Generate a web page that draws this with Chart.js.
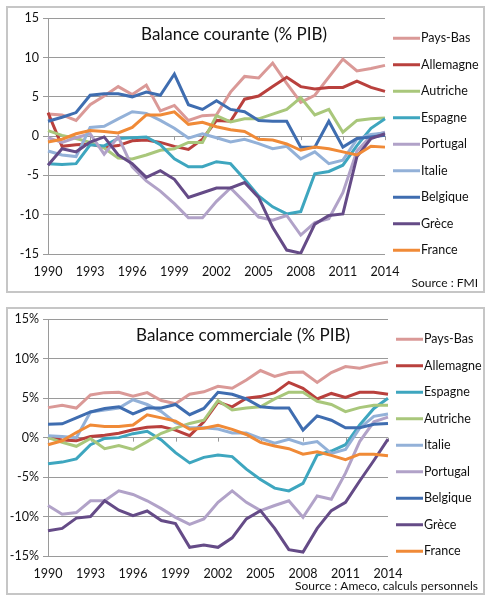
<!DOCTYPE html>
<html>
<head>
<meta charset="utf-8">
<script src="https://cdn.jsdelivr.net/npm/chart.js@4"></script>
<style>
  body { margin: 0; background: #fff; }
  .box { position: absolute; left: 6px; width: 475px; border: 2px solid #c6c6c6; background: #fff; }
  #box1 { top: 6px; height: 283px; }
  #box2 { top: 307px; height: 284px; }
</style>
</head>
<body>
<div class="box" id="box1"><canvas id="courante"></canvas></div>
<div class="box" id="box2"><canvas id="commerciale"></canvas></div>
<script>
// années
const years = ["1990","1991","1992","1993","1994","1995","1996","1997","1998","1999","2000","2001","2002",
               "2003","2004","2005","2006","2007","2008","2009","2010","2011","2012","2013","2014"];
const yTicks = [-15, -10, -5, 0, 5, 10, 15];

// Balance courante (% PIB) - source FMI
const paysBasCA   = [2.8, 2.7, 2.0, 4.0, 5.1, 6.3, 5.3, 6.5, 3.2, 3.9, 2.0, 2.6, 2.7, 5.6, 7.6, 7.4, 9.3, 6.7, 4.3, 5.2, 7.5, 9.8, 8.3, 8.6, 9.0];
const allemagneCA = [3.0, -1.3, -1.1, -1.0, -1.4, -1.2, -0.6, -0.5, -0.8, -1.3, -1.7, -0.4, 2.0, 1.9, 4.7, 5.1, 6.3, 7.5, 6.3, 6.0, 6.2, 6.2, 7.0, 6.2, 5.7];
const autricheCA  = [0.7, 0.1, -0.3, -0.8, -1.5, -2.8, -2.9, -2.4, -1.8, -1.6, -0.8, -0.8, 2.6, 1.8, 2.2, 2.2, 2.8, 3.4, 4.9, 2.7, 3.4, 0.5, 2.0, 2.2, 2.3];
const espagneCA   = [-3.5, -3.6, -3.5, -1.1, -1.25, -0.3, -0.2, -0.1, -1.1, -2.9, -3.9, -3.9, -3.25, -3.5, -5.5, -7.6, -9.0, -9.9, -9.6, -4.8, -4.5, -3.7, -1.2, 1.0, 2.2];
const portugalCA  = [-0.2, -0.8, -0.2, 0.3, -2.3, -0.1, -3.9, -5.7, -7.0, -8.6, -10.4, -10.4, -8.3, -6.6, -8.4, -10.3, -10.7, -10.1, -12.6, -11.0, -10.5, -7.2, -1.9, 0.0, 0.5];
const italieCA    = [-1.9, -2.4, -2.6, 1.1, 1.25, 2.2, 3.1, 2.9, 2.0, 1.0, -0.25, 0.3, -0.2, -0.75, -0.4, -0.95, -1.6, -1.3, -2.9, -2.0, -3.5, -3.05, -0.4, 0.2, 0.4];
const belgiqueCA  = [1.9, 2.4, 3.0, 5.2, 5.4, 5.4, 5.0, 5.6, 5.2, 7.9, 4.0, 3.4, 4.5, 3.4, 3.1, 2.0, 1.9, 1.9, -1.4, -1.4, 1.9, -1.4, -0.3, -0.1, 0.1];
const greceCA     = [-3.7, -1.6, -2.0, -0.75, -0.1, -2.4, -3.5, -5.25, -4.4, -5.5, -7.8, -7.2, -6.6, -6.6, -5.9, -7.8, -11.6, -14.5, -14.9, -11.2, -10.1, -9.9, -2.6, -0.3, 0.3];
const franceCA    = [-0.75, -0.4, 0.3, 0.7, 0.6, 0.4, 1.1, 2.7, 2.7, 3.1, 1.5, 1.75, 1.2, 0.8, 0.6, -0.4, -0.5, -1.0, -1.8, -1.4, -1.6, -2.0, -2.4, -1.3, -1.4];

// Balance commerciale (% PIB) - Ameco
const paysBasBC   = [3.8, 4.1, 3.75, 5.4, 5.7, 5.75, 5.25, 5.7, 4.7, 4.3, 5.5, 5.8, 6.5, 6.25, 7.3, 8.5, 7.75, 8.25, 8.3, 7.0, 8.25, 9.0, 8.8, 9.25, 9.6];
const allemagneBC = [0.0, -0.3, -0.4, 0.15, 0.3, 0.55, 1.0, 1.3, 1.4, 0.95, 0.25, 2.0, 4.5, 3.9, 5.0, 5.2, 5.7, 7.0, 6.25, 4.9, 5.6, 5.1, 5.75, 5.75, 5.5];
const espagneBC   = [-3.3, -3.1, -2.7, -0.9, -0.1, 0.0, 0.5, 0.8, -0.3, -1.9, -3.2, -2.5, -2.2, -2.4, -4.0, -5.3, -6.4, -6.75, -5.8, -2.2, -1.7, -0.9, 1.6, 3.7, 5.0];
const autricheBC  = [0.0, -0.6, -1.1, -0.1, -1.4, -1.0, -1.5, -0.5, 0.55, 1.2, 1.8, 2.2, 4.7, 3.5, 3.75, 3.9, 4.9, 5.75, 5.75, 4.6, 4.2, 3.3, 3.8, 4.1, 4.1];
const italieBC    = [0.25, 0.15, 0.0, 3.25, 3.5, 3.75, 4.8, 4.2, 3.3, 1.9, 1.25, 1.25, 1.1, 0.6, 0.6, -0.1, -0.7, -0.2, -0.8, -0.5, -2.0, -1.5, 1.2, 2.7, 3.0];
const portugalBC  = [-8.6, -9.7, -9.5, -8.0, -8.0, -6.75, -7.2, -8.0, -9.0, -10.1, -11.0, -10.3, -8.2, -6.75, -8.2, -9.25, -8.6, -8.0, -10.1, -7.4, -7.8, -4.5, -0.5, 2.0, 2.6];
const belgiqueBC  = [1.7, 1.75, 2.5, 3.25, 3.7, 3.9, 3.0, 3.75, 3.75, 4.2, 2.9, 3.7, 5.75, 5.5, 4.9, 3.9, 3.75, 3.75, 0.95, 2.75, 2.2, 1.25, 1.25, 1.7, 1.8];
const greceBC     = [-11.8, -11.5, -10.2, -10.0, -8.0, -9.2, -9.9, -9.3, -10.5, -10.9, -13.9, -13.6, -13.9, -12.7, -10.3, -9.25, -11.5, -14.2, -14.5, -11.5, -9.25, -8.2, -5.5, -2.9, -0.2];
const franceBC    = [-0.9, -0.4, 0.65, 1.6, 1.4, 1.4, 1.6, 2.9, 2.5, 2.1, 1.05, 1.2, 1.55, 1.05, 0.4, -0.6, -1.05, -1.4, -2.1, -1.8, -2.25, -2.8, -2.1, -2.1, -2.3];

const colors = {
  "Pays-Bas": "#da9997",
  "Allemagne": "#b9403d",
  "Autriche": "#a9c77b",
  "Espagne": "#3ea6bf",
  "Portugal": "#b1a2c8",
  "Italie": "#93b1d8",
  "Belgique": "#3f6db0",
  "Grèce": "#654b87",
  "France": "#f08a37"
};

const FONT = "Lato, 'Open Sans', sans-serif";
const GRID = "#9a9a9a";

// habillage : titre, légende, source, petites graduations sur l'axe 0
const decor = {
  id: "decor",
  beforeDatasetsDraw(chart, args, opts) {
    const ctx = chart.ctx, x = chart.scales.x, y = chart.scales.y;
    const y0 = y.getPixelForValue(0);
    ctx.save();
    ctx.strokeStyle = GRID;
    ctx.lineWidth = 1;
    for (let i = 3; i < years.length; i += 3) {
      const px = Math.round(x.getPixelForValue(i)) + 0.5;
      ctx.beginPath();
      ctx.moveTo(px, y0);
      ctx.lineTo(px, y0 + 4);
      ctx.stroke();
    }
    ctx.restore();
  },
  afterDraw(chart, args, opts) {
    const ctx = chart.ctx, area = chart.chartArea;
    ctx.save();
    ctx.fillStyle = "#111";
    ctx.font = "17px " + FONT;
    ctx.textAlign = "center";
    ctx.textBaseline = "middle";
    ctx.fillText(opts.title, opts.titleX, area.top + 16);

    // légende
    ctx.font = "12.5px " + FONT;
    ctx.textAlign = "left";
    const lx = area.right + 8;
    opts.order.forEach((name, i) => {
      const ly = area.top + 20 + i * 26.5;
      ctx.strokeStyle = colors[name];
      ctx.lineWidth = 3;
      ctx.beginPath();
      ctx.moveTo(lx, ly);
      ctx.lineTo(lx + 27, ly);
      ctx.stroke();
      ctx.fillStyle = "#111";
      ctx.fillText(name, lx + 28, ly);
    });

    ctx.font = "12px " + FONT;
    ctx.textAlign = "right";
    ctx.fillText(opts.source, chart.width - 5, opts.sourceY);
    ctx.restore();
  }
};

function makeChart(id, series, order, o) {
  const n = order.length;
  return new Chart(document.getElementById(id), {
    type: "line",
    data: {
      labels: years,
      datasets: order.map((name, i) => ({
        label: name,
        data: series[name],
        borderColor: colors[name],
        borderWidth: 3,
        pointRadius: 0,
        tension: 0,
        order: n - i
      }))
    },
    options: {
      responsive: true,
      maintainAspectRatio: false,
      animation: false,
      layout: { padding: { left: 0, right: o.right, top: o.top, bottom: 0 } },
      plugins: {
        legend: { display: false },
        tooltip: { enabled: false },
        decor: { title: o.title, titleX: o.titleX, order: order, source: o.source, sourceY: o.sourceY }
      },
      scales: {
        x: {
          grid: { display: false, drawTicks: false },
          border: { display: false },
          ticks: {
            autoSkip: false,
            maxRotation: 0,
            padding: 10,
            color: "#111",
            font: { family: FONT, size: 12.5 },
            callback: (v, i) => (i % 3 === 0 ? years[i] : null)
          },
          afterFit: s => { s.height = 37; }
        },
        y: {
          min: -15,
          max: 15,
          afterBuildTicks: s => { s.ticks = yTicks.map(v => ({ value: v })); },
          grid: { color: GRID, tickLength: 5 },
          border: { display: true, color: GRID },
          ticks: {
            padding: 4,
            color: "#111",
            font: { family: FONT, size: 12.5, lineHeight: 1 },
            callback: v => v + o.unit
          },
          afterFit: s => { s.width = 40; }
        }
      }
    },
    plugins: [decor]
  });
}

makeChart("courante", {
  "Pays-Bas": paysBasCA, "Allemagne": allemagneCA, "Autriche": autricheCA, "Espagne": espagneCA,
  "Portugal": portugalCA, "Italie": italieCA, "Belgique": belgiqueCA, "Grèce": greceCA, "France": franceCA
}, ["Pays-Bas", "Allemagne", "Autriche", "Espagne", "Portugal", "Italie", "Belgique", "Grèce", "France"],
{ title: "Balance courante (% PIB)", titleX: 226, source: "Source : FMI", sourceY: 275, right: 98, top: 6, unit: "" });

makeChart("commerciale", {
  "Pays-Bas": paysBasBC, "Allemagne": allemagneBC, "Espagne": espagneBC, "Autriche": autricheBC,
  "Italie": italieBC, "Portugal": portugalBC, "Belgique": belgiqueBC, "Grèce": greceBC, "France": franceBC
}, ["Pays-Bas", "Allemagne", "Espagne", "Autriche", "Italie", "Portugal", "Belgique", "Grèce", "France"],
{ title: "Balance commerciale (% PIB)", titleX: 235, source: "Source : Ameco, calculs personnels", sourceY: 277, right: 95, top: 7, unit: "%" });
</script>
</body>
</html>
